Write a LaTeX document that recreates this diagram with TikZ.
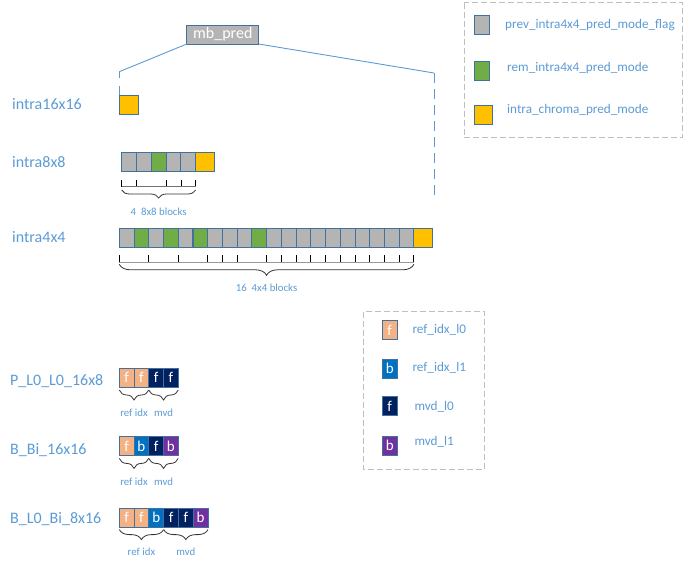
\documentclass[tikz,border=0pt]{standalone}
\usepackage{fontspec}
\setmainfont{Carlito}
\usetikzlibrary{positioning}
\usetikzlibrary{decorations.pathreplacing}
\definecolor{gris}{HTML}{B4B4B4}
\definecolor{vert}{HTML}{70AD47}
\definecolor{jaune}{HTML}{FFC000}
\definecolor{saumon}{HTML}{F4B183}
\definecolor{bleu}{HTML}{0070C0}
\definecolor{marine}{HTML}{002060}
\definecolor{pourpre}{HTML}{7030A0}
\definecolor{bord}{HTML}{41719C}
\definecolor{texte}{HTML}{5B9BD5}
\begin{document}
\begin{tikzpicture}[x=1pt,y=-1pt]
\tikzstyle{lien}=[draw=texte,line width=0.9pt]
\tikzstyle{tic}=[black,line width=0.8pt]
\tikzset{bloc/.style={draw=bord,line width=0.9pt,fill=#1,minimum width=14.7,minimum height=19,
inner sep=0,outer sep=0,anchor=north west,text=white,font=\fontsize{15}{15}\selectfont},
bloc/.default={gris},
accolade/.style={decorate,decoration={brace,mirror,amplitude=#1},draw=black!80,line width=0.8pt},
accolade/.default={10},
etiquette/.style={text=texte,anchor=west,inner sep=0,font=\fontsize{16}{19}\selectfont},
legende/.style={text=texte,anchor=west,inner sep=0,font=\fontsize{13.2}{16}\selectfont},
petit/.style={text=texte,inner sep=0,font=\fontsize{10.8}{12}\selectfont},
cadre/.style={draw=black!25,line width=1pt,dash pattern=on 6pt off 3pt}}
\useasboundingbox (0,0) rectangle (690,565);
% mb_pred
\node [bloc,minimum width=72,anchor=center,font=\fontsize{16}{16}\selectfont] (mb) at (222.8,34.5) {mb\_pred};
\coordinate (g) at (119.3,71.7);
\coordinate (d) at (434,73);
\coordinate (d2) at (434,198);
% intra16x16
\node [etiquette] (l16) at (12,104) {intra16x16};
\node [bloc=jaune,minimum width=19.3] (b16) at (119.3,95) {};
\draw [lien] (mb.south west) -- (g);
\draw [lien,dash pattern=on 6.5pt off 8pt on 10pt off 0pt] (g) -- (b16.north west);
\draw [lien] (mb.south east) -- (d);
\draw [lien,dash pattern=on 10pt off 6pt] (d) -- (d2);
% intra8x8
\node [etiquette] (l8) at (12,162) {intra8x8};
\foreach \c [count=\i] in {gris,gris,vert,gris,gris}
\node [bloc=\c] (h\i) at ({121.7+14.8*(\i-1)},152.7) {};
\node [bloc=jaune,minimum width=18.6,anchor=west,right=0pt of h5] (h6) {};
\foreach \a in {h1.south west,h2.south west,h4.south west,h5.south west,h5.south east}
\draw [tic] ([yshift=-8pt]\a) -- ++(0,7);
\draw [black!55,line width=0.8pt] ([yshift=-15pt]h1.south west) -- ([yshift=-15pt]h5.south east);
\draw [accolade=8] ([yshift=-18.3pt]h1.south west) -- ([yshift=-18.3pt]h5.south east)
node [petit,midway,yshift=-22pt] {4~~8x8 blocks};
% intra4x4
\node [etiquette] (l4) at (12,237) {intra4x4};
\foreach \c [count=\i] in {gris,vert,gris,vert,gris,vert,gris,gris,gris,vert,
gris,gris,gris,gris,gris,gris,gris,gris,gris,gris}
\node [bloc=\c] (q\i) at ({119.3+14.73*(\i-1)},228.3) {};
\node [bloc=jaune,minimum width=18.7,anchor=west,right=0pt of q20] (q21) {};
\foreach \i in {1,3,5,7,8,9,11,12,13,14,15,16,17,18,19,20}
\draw [tic] ([yshift=-7.7pt]q\i.south west) -- ++(0,7.7);
\draw [tic] ([yshift=-7.7pt]q20.south east) -- ++(0,7.7);
\draw [black!40,line width=0.8pt] ([yshift=-15.4pt]q1.south west) -- ([yshift=-15.4pt]q20.south east);
\draw [accolade=11] ([yshift=-17pt]q1.south west) -- ([yshift=-17pt]q20.south east)
node [petit,midway,yshift=-23pt] {16~~4x4 blocks};
% legende intra
\draw [cadre] (464,2.7) rectangle (682.7,137.3);
\node [bloc=gris,minimum width=15.3] (m1) at (474,15) {};
\node [bloc=vert,minimum width=15.3] (m2) at (474,61) {};
\node [bloc=jaune,minimum width=18.7] (m3) at (474,105) {};
\node [legende] (t1) at (505,25) {prev\_intra4x4\_pred\_mode\_flag};
\node [legende] (t2) at (507,68) {rem\_intra4x4\_pred\_mode};
\node [legende] (t3) at (507,110) {intra\_chroma\_pred\_mode};
% legende inter
\draw [cadre] (363.3,311.7) rectangle (484.3,469.3);
\node [bloc=saumon,minimum width=15.5] (n1) at (382,320.7) {f};
\node [bloc=bleu,minimum width=15.5] (n2) at (382,359.3) {b};
\node [bloc=marine,minimum width=15.5] (n3) at (382,396.7) {f};
\node [bloc=pourpre,minimum width=15.5] (n4) at (382,436) {b};
\node [legende] (u1) at (412.3,330) {ref\_idx\_l0};
\node [legende] (u2) at (412.3,368) {ref\_idx\_l1};
\node [legende] (u3) at (414.3,407) {mvd\_l0};
\node [legende] (u4) at (414.3,442) {mvd\_l1};
% P_L0_L0_16x8
\node [etiquette] (lp) at (10,381) {P\_L0\_L0\_16x8};
\foreach \c/\l [count=\i] in {saumon/f,saumon/f,marine/f,marine/f}
\node [bloc=\c] (p\i) at ({119.3+14.75*(\i-1)},368.3) {\l};
\draw [accolade] ([yshift=-2.7pt]p1.south west) -- ([yshift=-2.7pt]p2.south east)
node [petit,midway,yshift=-23pt] {ref idx};
\draw [accolade] ([yshift=-2.7pt]p3.south west) -- ([yshift=-2.7pt]p4.south east)
node [petit,midway,yshift=-23pt] {mvd};
% B_Bi_16x16
\node [etiquette] (lb) at (10,450) {B\_Bi\_16x16};
\foreach \c/\l [count=\i] in {saumon/f,bleu/b,marine/f,pourpre/b}
\node [bloc=\c] (r\i) at ({119.3+14.75*(\i-1)},436.7) {\l};
\draw [accolade] ([yshift=-2.7pt]r1.south west) -- ([yshift=-2.7pt]r2.south east)
node [petit,midway,yshift=-23pt] {ref idx};
\draw [accolade] ([yshift=-2.7pt]r3.south west) -- ([yshift=-2.7pt]r4.south east)
node [petit,midway,yshift=-23pt] {mvd};
% B_L0_Bi_8x16
\node [etiquette] (lm) at (10,519.3) {B\_L0\_Bi\_8x16};
\foreach \c/\l [count=\i] in {saumon/f,saumon/f,bleu/b,marine/f,marine/f,pourpre/b}
\node [bloc=\c] (s\i) at ({119.3+14.8*(\i-1)},508.3) {\l};
\draw [accolade] ([yshift=-2.3pt]s1.south west) -- ([yshift=-2.3pt]s3.south east)
node [petit,midway,yshift=-22pt] {ref idx};
\draw [accolade] ([yshift=-2.3pt]s4.south west) -- ([yshift=-2.3pt]s6.south east)
node [petit,midway,yshift=-22pt] {mvd};
\end{tikzpicture}
\end{document}
